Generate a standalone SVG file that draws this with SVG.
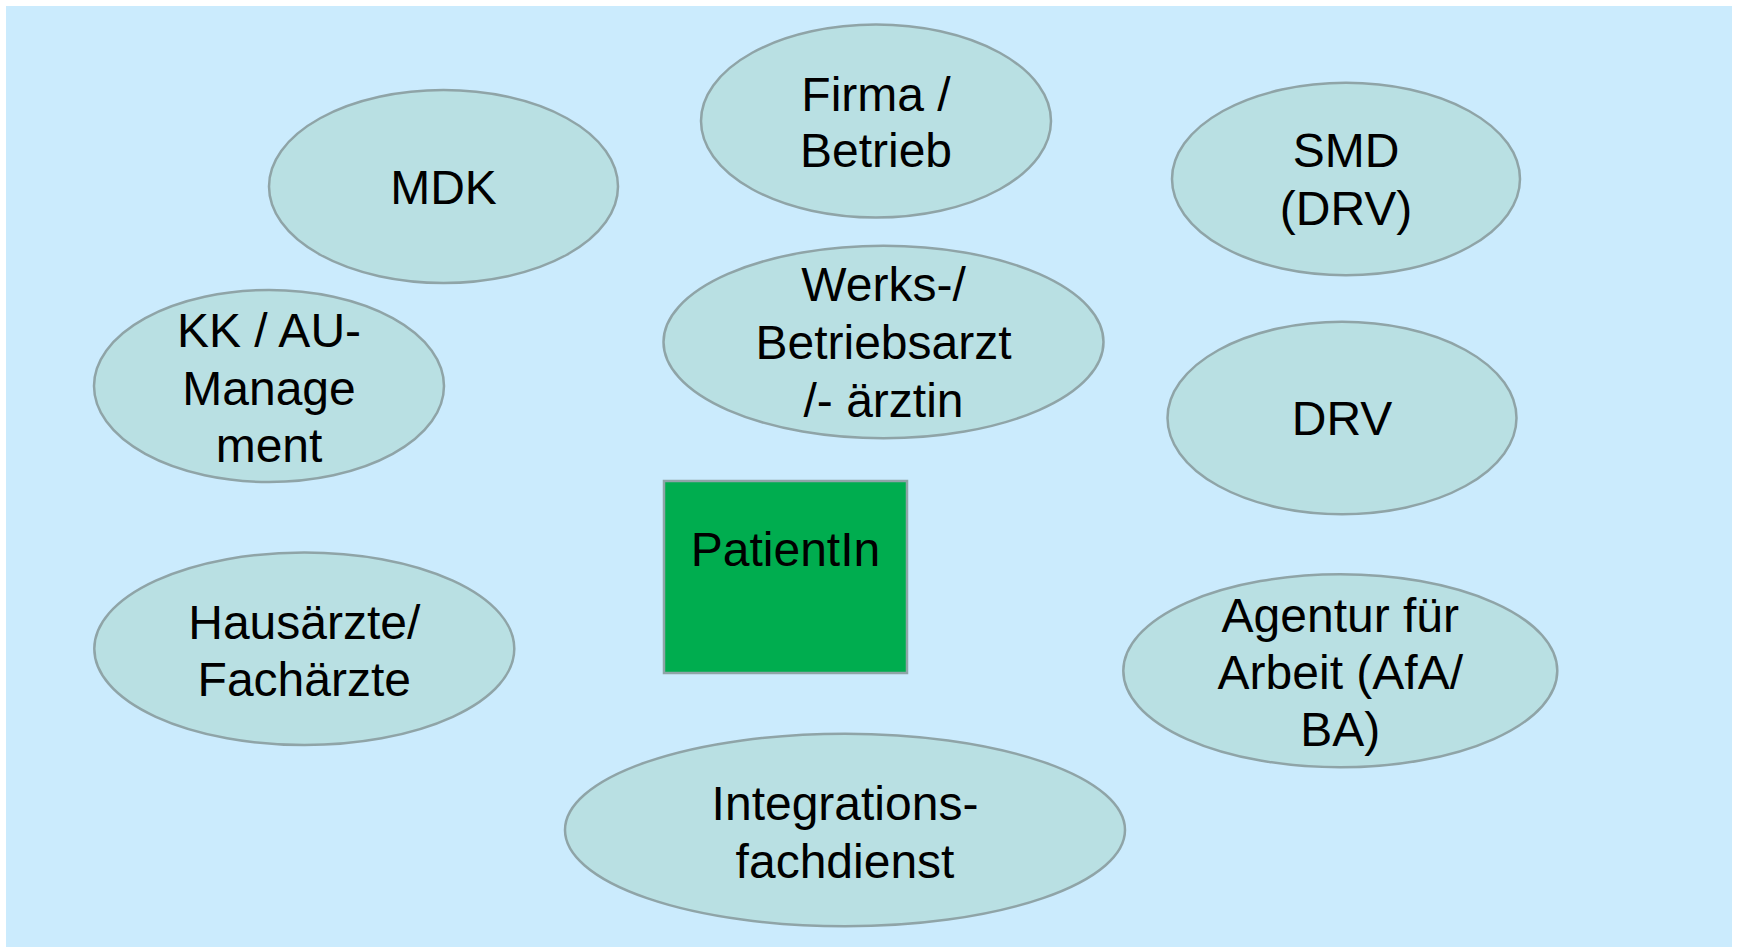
<svg xmlns="http://www.w3.org/2000/svg" width="1738" height="951" viewBox="0 0 1738 951">
<style>
.n{fill:#b9e0e3;stroke:#8fa4a7;stroke-width:2.5}
.t{font-family:"Liberation Sans",Arial,sans-serif;font-size:48px;fill:#000;text-anchor:middle}
</style>
<rect x="0" y="0" width="1738" height="951" fill="#ffffff"/>
<rect x="6" y="6" width="1726" height="941" fill="#cbebfd"/>
<g id="connectors"></g>
<g id="mdk"><ellipse class="n" cx="443.5" cy="186.5" rx="174.5" ry="96.5"/><text class="t" x="443.5" y="204">MDK</text></g>
<g id="firma"><ellipse class="n" cx="876" cy="121" rx="175" ry="96.5"/><text class="t" x="876" y="110.7">Firma /</text><text class="t" x="876" y="167.3">Betrieb</text></g>
<g id="smd"><ellipse class="n" cx="1346" cy="179" rx="174" ry="96.2"/><text class="t" x="1346" y="167.3">SMD</text><text class="t" x="1346" y="225">(DRV)</text></g>
<g id="kk"><ellipse class="n" cx="269" cy="386" rx="175" ry="96"/><text class="t" x="269" y="346.7">KK / AU-</text><text class="t" x="269" y="405">Manage</text><text class="t" x="269" y="461.7">ment</text></g>
<g id="werks"><ellipse class="n" cx="883.5" cy="342" rx="220" ry="96.3"/><text class="t" x="883.5" y="301">Werks-/</text><text class="t" x="883.5" y="359.3">Betriebsarzt</text><text class="t" x="883.5" y="416.7">/- ärztin</text></g>
<g id="drv"><ellipse class="n" cx="1342" cy="418" rx="174.5" ry="96.2"/><text class="t" x="1342" y="435">DRV</text></g>
<g id="patient"><rect x="664" y="481" width="243" height="192" fill="#00ad4f" stroke="#8fa4a7" stroke-width="2.5"/><text class="t" x="785.5" y="566">PatientIn</text></g>
<g id="hausaerzte"><ellipse class="n" cx="304.3" cy="648.7" rx="210" ry="96.3"/><text class="t" x="304.3" y="638.7">Hausärzte/</text><text class="t" x="304.3" y="695.5">Fachärzte</text></g>
<g id="agentur"><ellipse class="n" cx="1340.3" cy="670.8" rx="217" ry="96.5"/><text class="t" x="1340.3" y="631.5">Agentur für</text><text class="t" x="1340.3" y="689">Arbeit (AfA/</text><text class="t" x="1340.3" y="746">BA)</text></g>
<g id="integration"><ellipse class="n" cx="845" cy="830" rx="280" ry="96.3"/><text class="t" x="845" y="820">Integrations-</text><text class="t" x="845" y="877.7">fachdienst</text></g>
</svg>
